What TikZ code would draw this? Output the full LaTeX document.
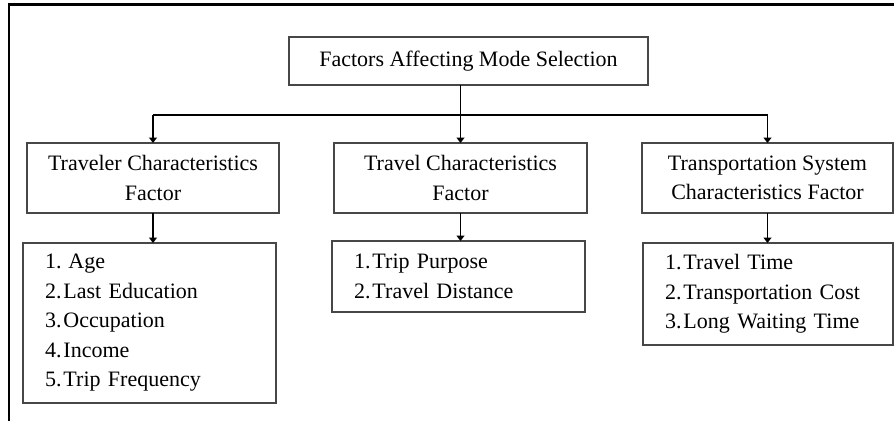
\documentclass[tikz,border=0pt]{standalone}
\usepackage{fontspec}
\setmainfont{Liberation Serif}
\usetikzlibrary{arrows.meta}
\tikzset{
  box/.style={draw=black!72, line width=1.3pt, rectangle, inner sep=0pt, outer sep=0pt,
    text=black, font=\fontsize{22}{29.5}\selectfont, align=center},
  listbox/.style={box, align=left, inner xsep=22pt},
  conn/.style={draw=black, line width=1.8pt},
  arr/.style={conn, -{Triangle[length=5.5pt,width=8pt]}},
}
\begin{document}
\begin{tikzpicture}[x=1pt,y=-1pt]
\useasboundingbox (0,0) rectangle (894,421);
% frame
\draw[black, line width=2.2pt] (9,421) -- (9,4.5) -- (894,4.5);
% nodes
\node[box, minimum width=359pt, minimum height=48pt] (top) at (468.5,61) {Factors Affecting Mode Selection};
\node[box, minimum width=252pt, minimum height=70pt] (lmid) at (153,178) {Traveler Characteristics\\Factor};
\node[box, minimum width=253pt, minimum height=70pt] (mmid) at (460.5,178) {Travel Characteristics\\Factor};
\node[box, minimum width=251pt, minimum height=70pt] (rmid) at (767.5,178) {Transportation System\\Characteristics Factor};
\node[listbox, text width=209pt, minimum height=160pt] (llist) at (149.5,323)
  {1.\hspace{7pt}Age\\2.\hspace{2pt}Last Education\\3.\hspace{2pt}Occupation\\4.\hspace{2pt}Income\\5.\hspace{2pt}Trip Frequency};
\node[listbox, text width=209pt, minimum height=71pt] (mlist) at (458.5,276.5)
  {1.\hspace{2pt}Trip Purpose\\2.\hspace{2pt}Travel Distance};
\node[listbox, text width=206pt, minimum height=102pt] (rlist) at (768,294)
  {1.\hspace{2pt}Travel Time\\2.\hspace{2pt}Transportation Cost\\3.\hspace{2pt}Long Waiting Time};
% connectors
\coordinate (bar) at (0,115);
\draw[conn] (top.south -| mmid.north) -- (mmid.north |- bar);
\draw[conn] (lmid.north |- bar) -- (rmid.north |- bar);
\draw[arr] (lmid.north |- bar) -- (lmid.north);
\draw[arr] (mmid.north |- bar) -- (mmid.north);
\draw[arr] (rmid.north |- bar) -- (rmid.north);
\draw[arr] (lmid.south) -- (lmid.south |- llist.north);
\draw[arr] (mmid.south) -- (mmid.south |- mlist.north);
\draw[arr] (rmid.south) -- (rmid.south |- rlist.north);
\end{tikzpicture}
\end{document}
